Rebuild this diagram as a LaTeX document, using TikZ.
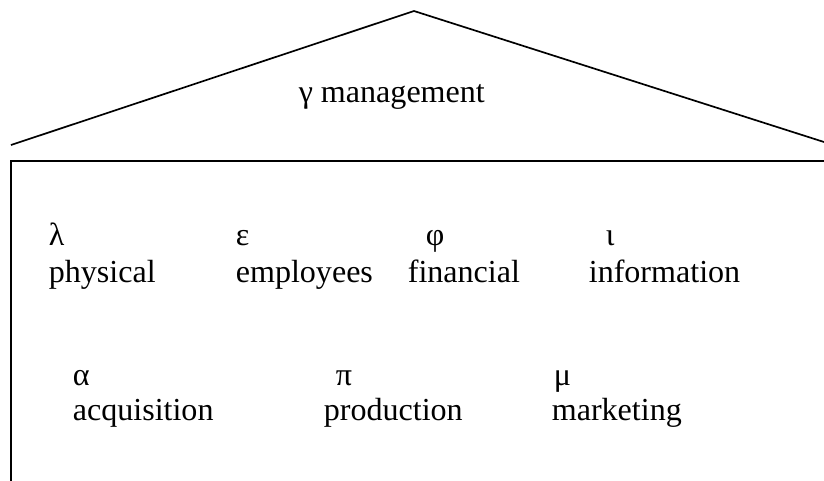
\documentclass[tikz,border=0pt]{standalone}
\usepackage{fontspec}
\setmainfont{Liberation Serif}
\begin{document}
\begin{tikzpicture}[x=0.025cm, y=-0.025cm, line width=1.2pt,
  every node/.style={inner sep=0pt, anchor=base west, font=\fontsize{22.8}{26}\selectfont}]
\useasboundingbox (0,0) rectangle (824,481);
% roof
\draw (11,145) -- (414,11) -- (824,142);
\node (mgmt) at (298,102) {γ management};
% body
\draw (824,161) -| (11,481);
\node (lam) at (48,245) {λ};
\node (phys) at (48,282) {physical};
\node (eps) at (235,245) {ε};
\node (empl) at (235,282) {employees};
\node (phi) at (425,245) {φ};
\node (fin) at (407,282) {financial};
\node (iota) at (605,245) {ι};
\node (info) at (588,282) {information};
\node (alpha) at (72,385) {α};
\node (acq) at (72,420) {acquisition};
\node (pi) at (335,385) {π};
\node (prod) at (323,420) {production};
\node (mu) at (553,385) {μ};
\node (mkt) at (551,420) {marketing};
\end{tikzpicture}
\end{document}
